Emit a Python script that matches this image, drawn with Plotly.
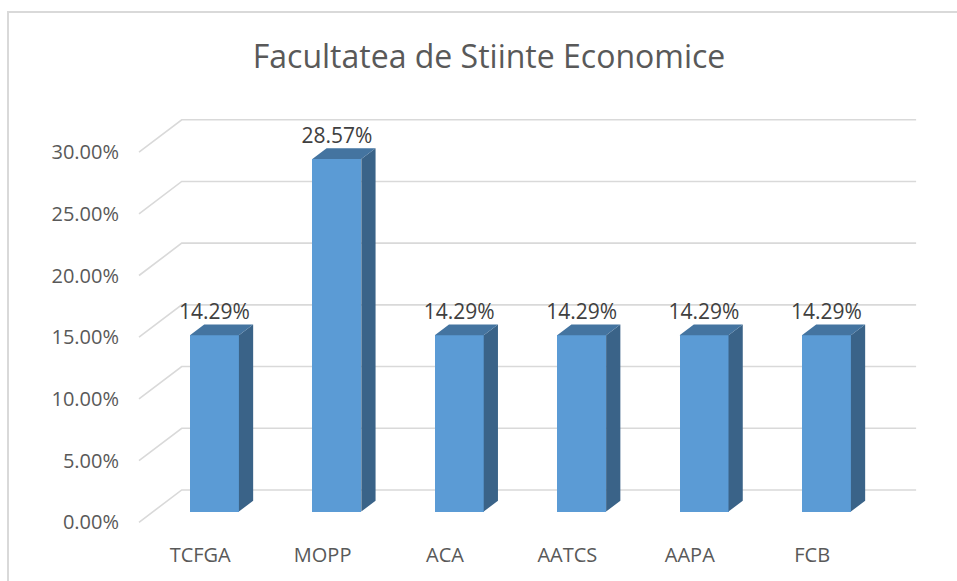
import plotly.graph_objects as go

# Share of graduates per programme
categories = ["TCFGA", "MOPP", "ACA", "AATCS", "AAPA", "FCB"]
shares = [0.1429, 0.2857, 0.1429, 0.1429, 0.1429, 0.1429]
y_ticks = [0.0, 0.05, 0.10, 0.15, 0.20, 0.25, 0.30]

# Oblique projection of the depth axis (in axis units) for the 3-D look
DEPTH_X = 0.349
DEPTH_Y = 0.0262
BAR_W = 0.40
FRONT, BACK = 1 / 3, 2 / 3

FONT = "Open Sans"
GRID = "#d9d9d9"
FACE = "#5b9bd5"
SIDE = "#3a6388"
TOP = "#4474a0"

bdx = (BACK - FRONT) * DEPTH_X
bdy = (BACK - FRONT) * DEPTH_Y
base = FRONT * DEPTH_Y
centers = [i + FRONT * DEPTH_X for i in range(len(categories))]

fig = go.Figure()

# front faces
fig.add_trace(go.Bar(
    x=centers, y=shares, base=base, width=BAR_W,
    marker=dict(color=FACE, line=dict(width=0)),
    hoverinfo="skip", showlegend=False,
))

# side and top faces
side_x, side_y, top_x, top_y = [], [], [], []
for c, v in zip(centers, shares):
    xl, xr = c - BAR_W / 2, c + BAR_W / 2
    yt = base + v
    side_x += [xr, xr + bdx, xr + bdx, xr, xr, None]
    side_y += [base, base + bdy, yt + bdy, yt, base, None]
    top_x += [xl, xl + bdx, xr + bdx, xr, xl, None]
    top_y += [yt, yt + bdy, yt + bdy, yt, yt, None]

fig.add_trace(go.Scatter(x=side_x, y=side_y, mode="lines", fill="toself",
                         fillcolor=SIDE, line=dict(width=0, color=SIDE),
                         hoverinfo="skip", showlegend=False))
fig.add_trace(go.Scatter(x=top_x, y=top_y, mode="lines", fill="toself",
                         fillcolor=TOP, line=dict(width=0, color=TOP),
                         hoverinfo="skip", showlegend=False))

# value labels above each bar
fig.add_trace(go.Scatter(
    x=centers, y=[base + v + bdy for v in shares], mode="text",
    text=[f"{v:.2%}" for v in shares], textposition="top center",
    textfont=dict(family=FONT, size=21, color="#404040"),
    hoverinfo="skip", showlegend=False, cliponaxis=False,
))

# gridlines on the side wall and back wall
x0 = -0.5
x1 = len(categories) - 0.5
shapes = []
for t in y_ticks:
    shapes.append(dict(
        type="path", xref="x", yref="y", layer="below",
        path=f"M {x0},{t} L {x0 + DEPTH_X},{t + DEPTH_Y} L {x1 + DEPTH_X},{t + DEPTH_Y}",
        line=dict(color=GRID, width=1.6),
    ))

# chart frame
shapes.append(dict(type="rect", xref="paper", yref="paper",
                   x0=-0.1545, y0=-0.12, x1=1.01, y1=1.1753,
                   line=dict(color="#d9d9d9", width=2), layer="below"))

fig.update_layout(
    width=957, height=581, autosize=False,
    margin=dict(l=135, r=0, t=90, b=46),
    paper_bgcolor="white", plot_bgcolor="white",
    shapes=shapes,
    bargap=0,
    title=dict(text="Facultatea de Stiinte Economice",
               x=489 / 957, xanchor="center", xref="container",
               y=1 - 57 / 581, yanchor="middle", yref="container",
               font=dict(family=FONT, size=32, color="#595959")),
    xaxis=dict(range=[-0.5327, 6.183], tickvals=list(range(len(categories))),
               ticktext=categories, showgrid=False, zeroline=False,
               showline=False, ticks="", ticklabelstandoff=6,
               tickfont=dict(family=FONT, size=20, color="#595959")),
    yaxis=dict(range=[-0.01029, 0.35032], tickvals=y_ticks, tickformat=".2%",
               showgrid=False, zeroline=False, showline=False, ticks="",
               ticklabelstandoff=15,
               tickfont=dict(family=FONT, size=20, color="#595959")),
)

fig.write_html("out.html")
